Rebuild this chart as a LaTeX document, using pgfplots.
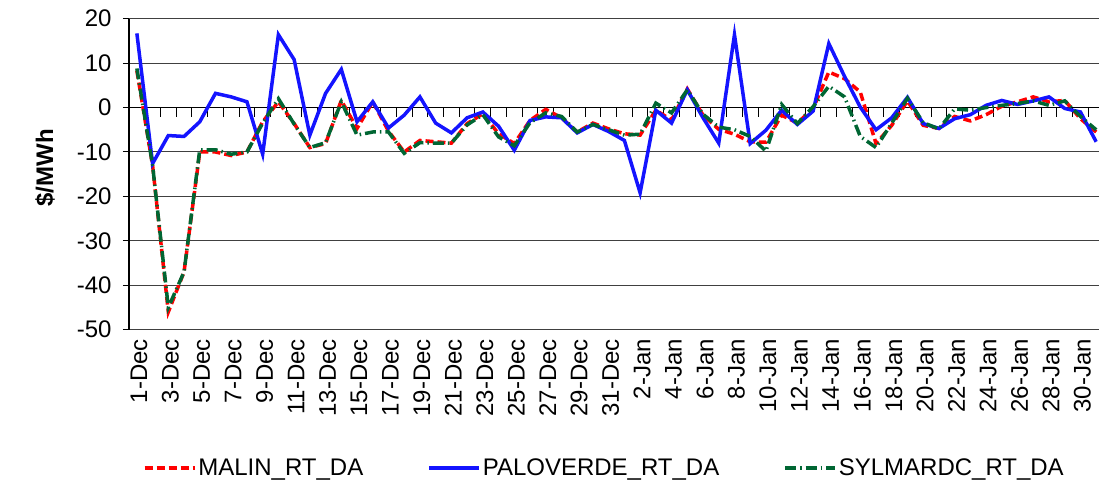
\documentclass[border=0pt]{standalone}
\usepackage{pgfplots}
\pgfplotsset{compat=1.18}
\usepackage{fontspec}
\setmainfont{Liberation Sans}
\definecolor{malin}{RGB}{255,0,0}
\definecolor{palo}{RGB}{20,20,255}
\definecolor{sylm}{RGB}{0,102,51}
\newcommand{\fs}{\fontsize{24}{28}\selectfont}
\begin{document}
\begin{tikzpicture}
\begin{axis}[
 at={(0pt,0pt)}, anchor=south west,
 scale only axis, width=970pt, height=311pt,
 xmin=-0.5, xmax=61.18, ymin=-50, ymax=20,
 axis y line=left, axis x line=bottom,
 axis line style={-},
 x axis line style={draw=none},
 y axis line style={line width=1.2pt, black},
 ytick={-50,-40,...,20},
 ymajorgrids, grid style={black!75, line width=1pt},
 tick align=outside,
 ytick style={black, line width=1pt}, major tick length=6pt,
 xtick={0,2,...,60},
 xticklabels={1-Dec,3-Dec,5-Dec,7-Dec,9-Dec,11-Dec,13-Dec,15-Dec,17-Dec,19-Dec,21-Dec,23-Dec,25-Dec,27-Dec,29-Dec,31-Dec,2-Jan,4-Jan,6-Jan,8-Jan,10-Jan,12-Jan,14-Jan,16-Jan,18-Jan,20-Jan,22-Jan,24-Jan,26-Jan,28-Jan,30-Jan},
 xtick style={draw=none},
 xticklabel style={rotate=90, anchor=east, font=\fs, yshift=-2pt},
 yticklabel style={font=\fs, xshift=-8pt},
 /pgf/number format/assume math mode=true,
 ylabel={\textbf{\$/MWh}},
 ylabel style={font=\fs, at={(axis description cs:-0.0866,0.52)}, anchor=center},
 legend style={at={(axis description cs:0.49,-0.445)}, anchor=center, legend columns=3, draw=none, font=\fs,
   /tikz/every even column/.append style={column sep=62pt}},
 legend image code/.code={\draw[#1] (0pt,0pt) -- (50pt,0pt);},
]
\draw[black, line width=1pt] (axis cs:-0.5,0) -- (axis cs:61.18,0);
\pgfplotsinvokeforeach{0,...,61}{\draw[black, line width=1pt] (axis cs:#1-0.5,0) -- ++(0pt,-9pt);}
\addplot[malin, line width=3.5pt, dash pattern=on 8pt off 4pt] table {
x y
0 8.3
1 -13
2 -46
3 -37
4 -10
5 -10
6 -10.8
7 -10
8 -3.2
9 1.3
10 -3.6
11 -9
12 -8.1
13 1.6
14 -4.7
15 1.3
16 -5.3
17 -10
18 -7.4
19 -7.7
20 -8
21 -3.6
22 -1.4
23 -5.9
24 -8.1
25 -2.9
26 -0.4
27 -2.3
28 -5.5
29 -3.5
30 -4.8
31 -5.9
32 -6.2
33 -0.6
34 -2.8
35 4.2
36 -1.7
37 -4.9
38 -6.0
39 -7.7
40 -7.8
41 -1.7
42 -3.5
43 -0.2
44 8.0
45 6.5
46 3.5
47 -8.1
48 -4.0
49 1.5
50 -4.0
51 -4.7
52 -2.0
53 -3.0
54 -1.6
55 0.3
56 1.3
57 2.4
58 1.3
59 1.6
60 -2.5
61 -5.5
};
\addlegendentry{MALIN\_RT\_DA}
\addplot[palo, line width=3.5pt] table {
x y
0 16.7
1 -12.6
2 -6.3
3 -6.5
4 -3.2
5 3.2
6 2.4
7 1.3
8 -10.5
9 16.4
10 10.8
11 -6.2
12 3.2
13 8.6
14 -3.2
15 1.3
16 -4.6
17 -1.7
18 2.4
19 -3.5
20 -5.7
21 -2.3
22 -1.0
23 -4.2
24 -9.6
25 -2.9
26 -2.1
27 -2.3
28 -5.7
29 -3.8
30 -5.4
31 -7.4
32 -19.2
33 -0.6
34 -3.5
35 4.0
36 -2.3
37 -8.0
38 16.4
39 -8.1
40 -5.1
41 -0.6
42 -3.8
43 -0.8
44 14.4
45 7.0
46 0.1
47 -5.0
48 -2.3
49 2.3
50 -3.6
51 -4.7
52 -2.5
53 -1.6
54 0.5
55 1.6
56 0.7
57 1.5
58 2.4
59 -0.2
60 -1.0
61 -7.7
};
\addlegendentry{PALOVERDE\_RT\_DA}
\addplot[sylm, line width=3.5pt, dash pattern=on 11pt off 4pt on 1.5pt off 4pt] table {
x y
0 8.8
1 -13
2 -45
3 -37
4 -9.5
5 -9.5
6 -10.5
7 -10
8 -3.5
9 2.0
10 -3.7
11 -9
12 -7.9
13 1.3
14 -6.2
15 -5.5
16 -5.5
17 -10.3
18 -7.9
19 -8
20 -8
21 -3.9
22 -1.6
23 -6.6
24 -8.6
25 -3.4
26 -1.2
27 -2
28 -5.5
29 -3.8
30 -5
31 -6.2
32 -6
33 1.0
34 -1.2
35 4.0
36 -1.5
37 -4.4
38 -5.0
39 -6.5
40 -9.8
41 0.7
42 -3.6
43 0.2
44 4.8
45 2.4
46 -6.5
47 -9.0
48 -3.5
49 2.1
50 -3.4
51 -4.8
52 -0.3
53 -0.6
54 0
55 0.5
56 0.9
57 1.5
58 0.5
59 1.5
60 -2.0
61 -5.0
};
\addlegendentry{SYLMARDC\_RT\_DA}
\end{axis}
\pgfresetboundingbox
\path (-129pt,-157.3pt) rectangle (970pt,329.7pt);
\end{tikzpicture}
\end{document}
